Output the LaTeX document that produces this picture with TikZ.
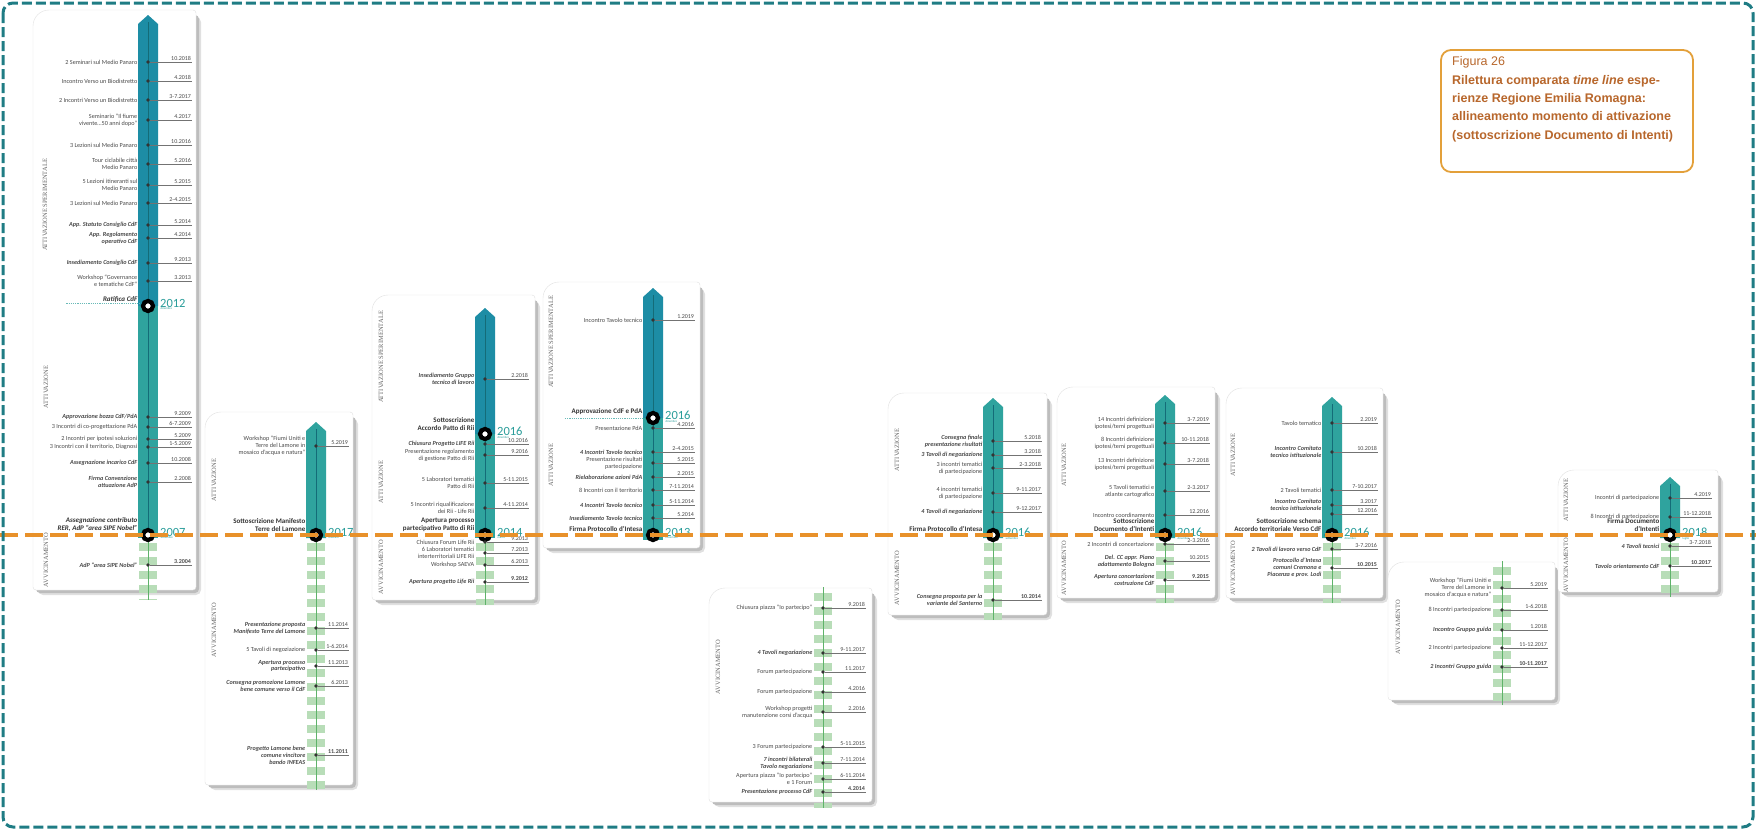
\documentclass[tikz,border=0pt]{standalone}
\usepackage{fontspec}
\setmainfont{Carlito}
\newfontfamily\phasefont{Liberation Serif}
\newfontfamily\capfont{Liberation Sans}
\definecolor{barblue}{HTML}{1D8DA5}
\definecolor{barteal}{HTML}{2FA39E}
\definecolor{barline}{HTML}{146C78}
\definecolor{stubgreen}{HTML}{B8DDB8}
\definecolor{stubline}{HTML}{5FB36A}
\definecolor{yearteal}{HTML}{2A9D9A}
\definecolor{frameteal}{HTML}{1F7C84}
\definecolor{alignorange}{HTML}{E8912A}
\definecolor{capborder}{HTML}{E3A03A}
\definecolor{captext}{HTML}{B8672C}
\definecolor{inktext}{HTML}{4A4A4A}

\newcounter{evno}
% card with shadow: x1, y1 (top), x2, y2 (bottom)
\newcommand{\card}[4]{%
  \fill[cardshadow,rounded corners=5pt] (#1+5,#2+7) rectangle (#3+5,#4+5);
  \fill[cardshadow,fill=black!26,rounded corners=4pt] (#1+3,#2+5) rectangle (#3+3,#4+3);
  \filldraw[card] (#1,#4) [rounded corners=16pt] -- (#1,#2) [rounded corners=3pt] -- (#3,#2) -- (#3,#4) -- cycle;}
% bar with pointed top: x, top, bottom, colour
\newcommand{\tlbar}[4]{%
  \fill[#4] (#1-10,#3) -- (#1-10,#2+9) -- (#1,#2) -- (#1+10,#2+9) -- (#1+10,#3) -- cycle;}
\newcommand{\tlseg}[4]{\fill[#4] (#1-10,#2) rectangle (#1+10,#3);}
\newcommand{\tlstub}[3]{\draw[stub] (#1,#2) -- (#1,#3); \draw[stubaxis] (#1,#2-6) -- (#1,#3);}
% event: [label style] y, label, date
\newcommand{\evt}[4][]{%
  \stepcounter{evno}%
  \node[evdot] (ev\theevno) at (\bx,#2) {};
  \coordinate (evend\theevno) at (\dx,#2);
  \draw[evtick] (ev\theevno) -- (evend\theevno);
  \node[evlabel,#1,anchor=east] (evl\theevno) at (\bx-10,#2) {#3};
  \node[evdate,anchor=south east] (evd\theevno) at (evend\theevno) {#4};}
% key moment: [label style] name, y, label, year, month
\newcommand{\keyev}[6][]{%
  \node[keydot] (#2) at (\bx,#3) {};
  \node[keylabel,#1,anchor=south east] (#2l) at (\bx-10,#3-3) {#4};
  \node[yearlabel,anchor=west] (#2y) at (\bx+12,#3-3) {#5};
  \node[monthlabel,anchor=north west] (#2m) at (#2y.south west) {#6};}

\begin{document}
\begin{tikzpicture}[x=1pt,y=-1pt,
  card/.style={fill=white,draw=black!12,line width=0.4pt},
  cardshadow/.style={fill=black!12},
  axis/.style={barline,line width=0.7pt},
  stub/.style={stubgreen,line width=18pt,dash pattern=on 8pt off 6pt},
  stubaxis/.style={stubline,line width=0.7pt},
  evdot/.style={circle,fill=black!80,inner sep=0pt,minimum size=3.6pt},
  evtick/.style={black!55,line width=0.45pt},
  evlabel/.style={font=\fontsize{6.2}{6.9}\selectfont,text=inktext,align=right,inner sep=0.5pt},
  hl/.style={font=\fontsize{6.2}{6.9}\selectfont\bfseries\itshape},
  evdate/.style={font=\fontsize{6}{6}\selectfont,text=inktext,inner sep=0.8pt},
  keydot/.style={circle,draw=black,line width=4.2pt,fill=white,minimum size=10pt,inner sep=0pt},
  keylabel/.style={font=\fontsize{7}{7.6}\selectfont\bfseries,text=black!80,align=right,inner sep=0.5pt},
  keyhl/.style={font=\fontsize{7}{7.6}\selectfont\bfseries\itshape},
  yearlabel/.style={font=\fontsize{12.5}{12.5}\selectfont,text=yearteal,inner sep=0pt},
  monthlabel/.style={font=\fontsize{3}{3}\selectfont,text=yearteal,inner sep=0.3pt},
  phase/.style={font=\phasefont\fontsize{6.5}{6.5}\selectfont,text=black!60,rotate=90,inner sep=0pt},
  dotline/.style={yearteal!70,line width=0.6pt,dash pattern=on 1.2pt off 1pt},
  frame/.style={frameteal,line width=3pt,dash pattern=on 10pt off 4pt,rounded corners=10pt},
  align line/.style={alignorange,line width=4.5pt,dash pattern=on 18pt off 7pt},
  capbox/.style={draw=capborder,line width=1.8pt,fill=white,rounded corners=10pt},
  captitle/.style={font=\capfont\fontsize{12.5}{18.3}\selectfont,text=captext,inner sep=0pt,anchor=north west},
  capbody/.style={font=\capfont\fontsize{12.5}{18.3}\selectfont\bfseries,text=captext,inner sep=0pt,align=left,anchor=north west}]
\useasboundingbox (0,0) rectangle (1756,830);

% panel 1
\card{33}{10}{196}{590}
\def\bx{148}\def\dx{192}
\tlbar{\bx}{15}{306}{barblue}
\tlseg{\bx}{306}{538}{barteal}
\tlstub{\bx}{543}{600}
\draw[axis] (\bx,22) -- (\bx,535);
\node[phase] (p1sper) at (45,205) {ATTIVAZIONE SPERIMENTALE};
\node[phase] (p1att) at (46,387) {ATTIVAZIONE};
\node[phase] (p1avv) at (46,560) {AVVICINAMENTO};
\evt{62}{2 Seminari sul Medio Panaro}{10.2018}
\evt{81}{Incontro Verso un Biodistretto}{4.2018}
\evt{100}{2 Incontri Verso un Biodistretto}{3-7.2017}
\evt{120}{Seminario “Il fiume\\vivente…50 anni dopo”}{4.2017}
\evt{145}{3 Lezioni sul Medio Panaro}{10.2016}
\evt{164}{Tour ciclabile città\\Medio Panaro}{5.2016}
\evt{185}{5 Lezioni itineranti sul\\Medio Panaro}{5.2015}
\evt{203}{3 Lezioni sul Medio Panaro}{2-4.2015}
\evt[hl]{225}{App. Statuto Consiglio CdF}{5.2014}
\evt[hl]{238}{App. Regolamento\\operativo CdF}{4.2014}
\evt[hl]{263}{Insediamento Consiglio CdF}{9.2013}
\evt{281}{Workshop “Governance\\e tematiche CdF”}{3.2013}
\keyev[keyhl]{k1a}{306}{Ratifica CdF}{2012}{dicembre}
\draw[dotline] ([xshift=-36pt]k1al.south west) -- ([xshift=2pt]k1al.south east);
\evt[hl]{417}{Approvazione bozza CdF/PdA}{9.2009}
\evt{427}{3 Incontri di co-progettazione PdA}{6-7.2009}
\evt{439}{2 Incontri per ipotesi soluzioni}{5.2009}
\evt{447}{3 Incontri con il territorio, Diagnosi}{1-5.2009}
\evt[hl]{463}{Assegnazione incarico CdF}{10.2008}
\evt[hl]{482}{Firma Convenzione\\attuazione AdP}{2.2008}
\keyev[keyhl]{k1b}{535}{Assegnazione contributo\\RER, AdP “area SIPE Nobel”}{2007}{settembre}
\evt[hl]{565}{AdP “area SIPE Nobel”}{\textbf{3.2004}}

% panel 2
\card{205}{412}{353}{785}
\def\bx{316}\def\dx{349}
\tlbar{\bx}{422}{538}{barteal}
\tlstub{\bx}{543}{790}
\draw[axis] (\bx,429) -- (\bx,535);
\node[phase] (p2att) at (214,480) {ATTIVAZIONE};
\node[phase] (p2avv) at (214,630) {AVVICINAMENTO};
\evt{446}{Workshop “Fiumi Uniti e\\Terre del Lamone in\\mosaico d’acqua e natura”}{5.2019}
\keyev{k2}{535}{Sottoscrizione Manifesto\\Terre del Lamone}{2017}{febbraio}
\evt[hl]{628}{Presentazione proposta\\Manifesto Terre del Lamone}{11.2014}
\evt{650}{5 Tavoli di negoziazione}{1-6.2014}
\evt[hl]{666}{Apertura processo\\partecipativo}{11.2013}
\evt[hl]{686}{Consegna promozione Lamone\\bene comune verso il CdF}{6.2013}
\evt[hl]{755}{Progetto Lamone bene\\comune vincitore\\bando INFEAS}{\textbf{11.2011}}

% panel 3
\card{372}{295}{535}{600}
\def\bx{485}\def\dx{529}
\tlbar{\bx}{308}{434}{barblue}
\tlseg{\bx}{434}{538}{barteal}
\tlstub{\bx}{543}{605}
\draw[axis] (\bx,315) -- (\bx,535);
\node[phase] (p3sper) at (381,357) {ATTIVAZIONE SPERIMENTALE};
\node[phase] (p3att) at (381,482) {ATTIVAZIONE};
\node[phase] (p3avv) at (381,567) {AVVICINAMENTO};
\evt[hl]{379}{Insediamento Gruppo\\tecnico di lavoro}{2.2018}
\keyev{k3a}{434}{Sottoscrizione\\Accordo Patto di Rii}{2016}{dicembre}
\evt[hl]{444}{Chiusura Progetto LIFE Rii}{10.2016}
\evt{455}{Presentazione regolamento\\di gestione Patto di Rii}{9.2016}
\evt{483}{5 Laboratori tematici\\Patto di Rii}{5-11.2015}
\evt{508}{5 Incontri riqualificazione\\dei Rii - Life Rii}{4-11.2014}
\keyev{k3b}{535}{Apertura processo\\partecipativo Patto di Rii}{2014}{marzo}
\evt{542}{Chiusura Forum Life Rii}{9.2013}
\evt{553}{6 Laboratori tematici\\interterritoriali LIFE Rii}{7.2013}
\evt{565}{Workshop SAEVA}{6.2013}
\evt[hl]{582}{Apertura progetto Life Rii}{\textbf{9.2012}}

% panel 4
\card{543}{282}{700}{548}
\def\bx{653}\def\dx{695}
\tlbar{\bx}{288}{418}{barblue}
\tlseg{\bx}{418}{540}{barteal}
\draw[axis] (\bx,295) -- (\bx,535);
\node[phase] (p4sper) at (551,342) {ATTIVAZIONE SPERIMENTALE};
\node[phase] (p4att) at (551,465) {ATTIVAZIONE};
\evt{320}{Incontro Tavolo tecnico}{1.2019}
\keyev{k4a}{418}{Approvazione CdF e PdA}{2016}{dicembre}
\draw[dotline] ([xshift=-6pt,yshift=-3pt]k4al.south west) -- ([yshift=-3pt]k4al.south east);
\evt{428}{Presentazione PdA}{4.2016}
\evt[hl]{452}{4 Incontri Tavolo tecnico}{2-4.2015}
\evt{463}{Presentazione risultati\\partecipazione}{5.2015}
\evt[hl]{477}{Rielaborazione azioni PdA}{2.2015}
\evt{490}{8 Incontri con il territorio}{7-11.2014}
\evt[hl]{505}{4 Incontri Tavolo tecnico}{5-11.2014}
\evt[hl]{518}{Insediamento Tavolo tecnico}{5.2014}
\keyev{k4b}{535}{Firma Protocollo d’Intesa}{2013}{novembre}

% panel 5
\card{709}{588}{872}{802}
\def\bx{823}\def\dx{866}
\tlstub{\bx}{593}{808}
\node[phase] (p5avv) at (718,667) {AVVICINAMENTO};
\evt{608}{Chiusura piazza “Io partecipo”}{9.2018}
\evt[hl]{653}{4 Tavoli negoziazione}{9-11.2017}
\evt{672}{Forum partecipazione}{11.2017}
\evt{692}{Forum partecipazione}{4.2016}
\evt{712}{Workshop progetti\\manutenzione corsi d’acqua}{2.2016}
\evt{747}{3 Forum partecipazione}{5-11.2015}
\evt[hl]{763}{7 incontri bilaterali\\Tavolo negoziazione}{7-11.2014}
\evt{779}{Apertura piazza “Io partecipo”\\e 1 Forum}{6-11.2014}
\evt[hl]{792}{Presentazione processo CdF}{\textbf{4.2014}}

% panel 6
\card{888}{393}{1047}{615}
\def\bx{993}\def\dx{1042}
\tlbar{\bx}{398}{538}{barteal}
\tlstub{\bx}{543}{620}
\draw[axis] (\bx,405) -- (\bx,535);
\node[phase] (p6att) at (897,450) {ATTIVAZIONE};
\node[phase] (p6avv) at (897,578) {AVVICINAMENTO};
\evt[hl]{441}{Consegna finale\\presentazione risultati}{5.2018}
\evt[hl]{455}{3 Tavoli di negoziazione}{3.2018}
\evt{468}{3 incontri tematici\\di partecipazione}{2-3.2018}
\evt{493}{4 incontri tematici\\di partecipazione}{9-11.2017}
\evt[hl]{512}{4 Tavoli di negoziazione}{9-12.2017}
\keyev{k6}{535}{Firma Protocollo d’Intesa}{2016}{settembre}
\evt[hl]{600}{Consegna proposta per la\\variante del Santerno}{\textbf{10.2014}}

% panel 7
\card{1057}{387}{1215}{598}
\def\bx{1165}\def\dx{1210}
\tlbar{\bx}{395}{538}{barteal}
\tlstub{\bx}{543}{603}
\draw[axis] (\bx,402) -- (\bx,535);
\node[phase] (p7att) at (1064,465) {ATTIVAZIONE};
\node[phase] (p7avv) at (1064,568) {AVVICINAMENTO};
\evt{423}{14 Incontri definizione\\ipotesi/temi progettuali}{3-7.2019}
\evt{443}{8 Incontri definizione\\ipotesi/temi progettuali}{10-11.2018}
\evt{464}{13 Incontri definizione\\ipotesi/temi progettuali}{3-7.2018}
\evt{491}{5 Tavoli tematici e\\atlante cartografico}{2-3.2017}
\evt{515}{Incontro coordinamento}{12.2016}
\keyev{k7}{535}{Sottoscrizione\\Documento d’Intenti}{2016}{dicembre}
\evt{544}{2 Incontri di concertazione}{2-3.2016}
\evt[hl]{561}{Del. CC appr. Piano\\adattamento Bologna}{10.2015}
\evt[hl]{580}{Apertura concertazione\\costruzione CdF}{\textbf{9.2015}}

% panel 8
\card{1226}{388}{1383}{598}
\def\bx{1332}\def\dx{1378}
\tlbar{\bx}{397}{538}{barteal}
\tlstub{\bx}{543}{603}
\draw[axis] (\bx,404) -- (\bx,535);
\node[phase] (p8att) at (1233,455) {ATTIVAZIONE};
\node[phase] (p8avv) at (1233,568) {AVVICINAMENTO};
\evt{423}{Tavolo tematico}{2.2019}
\evt[hl]{452}{Incontro Comitato\\tecnico istituzionale}{10.2018}
\evt{490}{2 Tavoli tematici}{7-10.2017}
\evt[hl]{505}{Incontro Comitato\\tecnico istituzionale}{3.2017}
\evt{514}{}{12.2016}
\keyev{k8}{535}{Sottoscrizione schema\\Accordo territoriale Verso CdF}{2016}{dicembre}
\evt[hl]{549}{2 Tavoli di lavoro verso CdF}{3-7.2016}
\evt[hl]{568}{Protocollo d’Intesa\\comuni Cremona e\\Piacenza e prov. Lodi}{\textbf{10.2015}}

% panel 9
\card{1388}{562}{1555}{700}
\def\bx{1502}\def\dx{1548}
\tlstub{\bx}{567}{705}
\node[phase] (p9avv) at (1398,627) {AVVICINAMENTO};
\evt{588}{Workshop “Fiumi Uniti e\\Terre del Lamone in\\mosaico d’acqua e natura”}{5.2019}
\evt{610}{8 Incontri partecipazione}{1-6.2018}
\evt[hl]{630}{Incontro Gruppo guida}{1.2018}
\evt{648}{2 Incontri partecipazione}{11-12.2017}
\evt[hl]{667}{2 Incontri Gruppo guida}{\textbf{10-11.2017}}

% panel 10
\card{1558}{470}{1718}{592}
\def\bx{1670}\def\dx{1712}
\tlbar{\bx}{477}{538}{barteal}
\tlstub{\bx}{543}{597}
\draw[axis] (\bx,484) -- (\bx,535);
\node[phase] (p10att) at (1566,500) {ATTIVAZIONE};
\node[phase] (p10avv) at (1566,565) {AVVICINAMENTO};
\evt{498}{Incontri di partecipazione}{4.2019}
\evt{517}{8 Incontri di partecipazione}{11-12.2018}
\keyev{k10}{535}{Firma Documento\\d’Intenti}{2018}{luglio}
\evt[hl]{546}{4 Tavoli tecnici}{3-7.2018}
\evt[hl]{566}{Tavolo orientamento CdF}{\textbf{10.2017}}

% caption
\draw[capbox] (1441,50) rectangle (1693,172);
\node[captitle] (captitle) at (1452,56) {Figura 26};
\node[capbody] (capbody) at (1452,75) {Rilettura comparata \textit{time line} espe-\\rienze Regione Emilia Romagna:\\allineamento momento di attivazione\\(sottoscrizione Documento di Intenti)};

% alignment line and frame
\draw[align line] (0,535) -- (1756,535);
\draw[frame] (3,3) rectangle (1753,827);
\end{tikzpicture}
\end{document}
